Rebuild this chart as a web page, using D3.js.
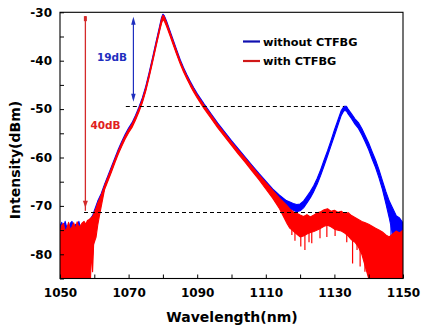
<!DOCTYPE html>
<html>
<head>
<meta charset="utf-8">
<script src="https://cdn.jsdelivr.net/npm/d3@7"></script>
<style>
html,body{margin:0;padding:0;background:#fff;}
svg{display:block;}
text{font-family:"DejaVu Sans",Verdana,sans-serif;font-weight:bold;}
</style>
</head>
<body>
<svg id="chart" width="425" height="329"></svg>
<script>
// ---------- data ----------
const xTicks = [1050,1060,1070,1080,1090,1100,1110,1120,1130,1140,1150];
const xLabels = [1050,1070,1090,1110,1130,1150];
const yTicks = [-85,-80,-75,-70,-65,-60,-55,-50,-45,-40,-35,-30];
const yLabels = [-80,-70,-60,-50,-40,-30];

// "with CTFBG" (red): wavelength, upper and lower edge of the noisy trace
const redWl = [1050,1050.5,1051,1051.5,1052,1052.5,1053,1053.5,1054,1054.5,1055,1055.5,1056,1056.5,1057,1057.5,1058,1058.5,1058.9,1059.2,1059.5,1059.8,1060,1060.5,1061,1061.5,1062,
  1063,1064,1065,1066,1067,1068,1069,1070,1071,1072,1073,1074,1075,1076,1077,1078,1079,1079.6,1080,1080.4,1081,1082,1083,1084,1085,1086,1087,1088,1089,1090,
  1092,1094,1096,1098,1100,1102,1104,1106,1108,1110,1112,1114,1116,
  1117,1118,1119,1120,1121,1122,1123,1124,1125,1126,1127,1128,1129,1130,1131,1132,1133,1134,1135,1136,1137,1138,1139,1140,1141,1142,1143,1144,1145,1146,1147,1148,1149,1150];
const redHi = [-75.5,-74,-73.6,-75.2,-74.6,-73.4,-75,-74.3,-73.5,-74.8,-73.3,-74.4,-74,-73.5,-73.2,-73.8,-73,-72.8,-72.6,-72.4,-72.2,-71.8,-71.4,-70.5,-69.4,-68.6,-67.8,
  -65.8,-64,-62.2,-60.4,-58.6,-57,-55.5,-54.2,-53.1,-51.6,-49.9,-48,-45.6,-42.7,-39.6,-36.4,-33.3,-31.4,-30.6,-30.9,-32,-34,-36,-38,-40,-41.7,-43.2,-44.6,-45.9,-47.1,
  -49.2,-51.2,-53.2,-55,-56.8,-58.5,-60.2,-61.9,-63.6,-65.2,-66.8,-68.4,-69.8,
  -70.6,-71.2,-71.5,-71.9,-72.2,-71.8,-72.3,-71.9,-71.4,-71.2,-70.8,-70.6,-71.1,-70.9,-71.3,-71.1,-71.6,-71.4,-72,-72.4,-72.8,-73.2,-73.5,-73.8,-74.2,-74.6,-75,-75.4,-76,-76.4,-75.8,-75.2,-75.6,-75];
const redLo = [-85,-85,-85,-85,-85,-85,-85,-85,-85,-85,-85,-85,-85,-85,-85,-85,-85,-85,-85,-79,-83.6,-78,-77.5,-76.5,-74,-72,-70.2,
  -66.6,-64.8,-63,-61.1,-59.3,-57.7,-56.2,-54.9,-53.8,-52.3,-50.6,-48.7,-46.3,-43.4,-40.3,-37.1,-34,-32.3,-31.5,-31.8,-32.8,-34.7,-36.7,-38.7,-40.6,-42.3,-43.8,-45.2,-46.5,-47.7,
  -49.9,-51.9,-53.9,-55.7,-57.5,-59.3,-61,-62.8,-64.6,-66.5,-68.4,-70.6,-73.4,
  -74.6,-75.2,-75.8,-76.4,-76.2,-75.8,-75.5,-75.3,-75,-74.6,-74.2,-74,-74.3,-74.8,-75,-75.2,-75.6,-76.2,-77,-77.5,-78.5,-80,-82.5,-85,-85,-85,-85,-85,-85,-85,-85,-85,-85,-85];
// downward noise spikes of the red trace: wavelength, top, bottom
const redSpikeWl = [1117.6,1118.5,1120.2,1121.4,1122.6,1123.4,1125.8,1127.8,1130.2,1133.6,1135.3,1136.6,1137.5,1138.9];
const redSpikeTop = [-73,-74,-74,-75,-74,-74,-74,-73.5,-74,-75,-76,-76,-77,-78];
const redSpikeBot = [-76,-77.2,-78.4,-79.1,-77.5,-77.7,-76.7,-76.4,-76.2,-77.5,-81.9,-79.1,-82.5,-83.6];

// "without CTFBG" (blue)
const blueWl = [1050,1050.5,1051,1051.5,1052,1052.5,1053,1053.5,1054,1054.5,1055,1055.5,1056,1056.5,1057,1057.5,1058,1058.5,1058.9,1059.5,1060,1060.5,1061,1062,
  1063,1064,1065,1066,1067,1068,1069,1070,1071,1072,1073,1074,1075,1076,1077,1078,1079,1079.6,1080,1080.4,1081,1082,1083,1084,1085,1086,1087,1088,1089,1090,
  1092,1094,1096,1098,1100,1102,1104,1106,1108,1110,1112,1114,1116,1118,1119,1120,1121,1122,1123,1124,1125,1126,1127,1128,1129,1130,1131,1132,1132.8,1133.5,
  1134,1135,1136,1137,1138,1139,1140,1141,1142,1143,1144,1145,1146,1147,1148,1149,1150];
const blueHi = [-74.2,-73.4,-74.5,-73.2,-74.5,-74.8,-73.6,-73.2,-74.6,-73.8,-74.5,-73.2,-74.6,-74,-73.4,-74,-73.4,-73,-72.6,-72,-71,-70,-69,-67.5,
  -65.5,-63.7,-61.9,-60.1,-58.3,-56.7,-55.2,-53.9,-52.8,-51.3,-49.6,-47.7,-45.3,-42.4,-39.3,-36.1,-33,-31.1,-30.4,-30.7,-31.7,-33.7,-35.7,-37.7,-39.7,-41.4,-42.9,-44.3,-45.6,-46.8,
  -48.9,-50.9,-52.9,-54.7,-56.5,-58.2,-59.9,-61.6,-63.3,-64.9,-66.5,-67.8,-68.9,-69.5,-69.7,-69.6,-69,-68,-67,-65.8,-64.3,-62.5,-60.5,-58.6,-56.5,-54.3,-52.3,-50.3,-49.4,-49.4,
  -50,-51,-52,-52.8,-54,-55.5,-57,-58.8,-60.5,-62.5,-64.8,-67,-69,-70.5,-72,-72.5,-73.5];
const blueLo = [-85,-85,-85,-85,-85,-85,-85,-85,-85,-85,-85,-85,-85,-85,-85,-85,-85,-85,-80,-80.2,-76,-74,-72.5,-69,
  -66.3,-64.5,-62.7,-60.8,-59,-57.4,-55.9,-54.6,-53.5,-52,-50.3,-48.4,-46,-43.1,-40,-36.8,-33.7,-32,-31.2,-31.5,-32.5,-34.4,-36.4,-38.4,-40.3,-42,-43.5,-44.9,-46.2,-47.4,
  -49.6,-51.6,-53.6,-55.4,-57.2,-59,-60.7,-62.5,-64.3,-66,-67.5,-69,-70.2,-70.9,-71.2,-71,-70.4,-69.4,-68.3,-67,-65.5,-63.7,-61.7,-59.7,-57.6,-55.5,-53.4,-51.3,-50.3,-50.4,
  -51,-52,-53.1,-54,-55.3,-56.8,-58.4,-60.3,-62.1,-64.2,-66.6,-69.5,-72.5,-76,-78,-78.5,-77];
const blueSpikeWl = [1146.5,1147.8,1149.2];
const blueSpikeTop = [-74,-75,-75];
const blueSpikeBot = [-80,-79.2,-78.6];

// annotations
const dashLevels = [-49.4,-71.3];
const dashFrom = [1069.2,1057.0];
const dashTo = [1132.8,1134.3];

// ---------- drawing ----------
const svg = d3.select("#chart");
const W = 425, H = 329;
const x = d3.scaleLinear().domain([1050,1150]).range([60,403]);
const y = d3.scaleLinear().domain([-85,-30]).range([278.5,12.3]);

svg.append("rect").attr("width",W).attr("height",H).attr("fill","#fff");
const defs = svg.append("defs");
defs.append("clipPath").attr("id","clip").append("rect")
  .attr("x",60).attr("y",12.3).attr("width",343).attr("height",266.2);

const plot = svg.append("g").attr("clip-path","url(#clip)");

function band(wl, hi, lo, color){
  const pts = wl.map((w,i)=>({w:w,h:hi[i],l:lo[i]}));
  const area = d3.area().x(d=>x(d.w)).y0(d=>y(d.l)).y1(d=>y(d.h)).curve(d3.curveLinear);
  plot.append("path").datum(pts).attr("d",area)
    .attr("fill",color).attr("stroke",color).attr("stroke-width",1.1).attr("stroke-linejoin","round");
}
function spikes(wl, top, bot, color){
  plot.selectAll(null).data(wl.map((w,i)=>({w:w,t:top[i],b:bot[i]}))).enter().append("line")
    .attr("x1",d=>x(d.w)).attr("x2",d=>x(d.w)).attr("y1",d=>y(d.t)).attr("y2",d=>y(d.b))
    .attr("stroke",color).attr("stroke-width",1.2);
}
band(blueWl, blueHi, blueLo, "#0000ff");
spikes(blueSpikeWl, blueSpikeTop, blueSpikeBot, "#0000ff");
band(redWl, redHi, redLo, "#ff0000");
spikes(redSpikeWl, redSpikeTop, redSpikeBot, "#ff0000");

// dashed guide lines
dashLevels.forEach((v,i)=>{
  svg.append("line").attr("x1",x(dashFrom[i])).attr("x2",x(dashTo[i]))
    .attr("y1",Math.round(y(v))+0.5).attr("y2",Math.round(y(v))+0.5)
    .attr("stroke","#000").attr("stroke-width",1).attr("stroke-dasharray","4,3");
});

// arrows
function arrowHead(cx, tipY, dir, w, len, color){
  svg.append("path")
    .attr("d",`M${cx},${tipY} L${cx-w/2},${tipY-dir*len} L${cx+w/2},${tipY-dir*len} Z`)
    .attr("fill",color);
}
// red 40 dB arrow
const rx = x(1057.4);
svg.append("line").attr("x1",rx).attr("x2",rx).attr("y1",y(-30.8)).attr("y2",y(-70.4)+3)
  .attr("stroke","#d42a2a").attr("stroke-width",1.3);
svg.append("rect").attr("x",rx-1.5).attr("y",y(-30.8)).attr("width",3).attr("height",5).attr("fill","#d42a2a");
arrowHead(rx, y(-70.4), 1, 5, 7, "#d42a2a");
// blue 19 dB arrow
const bx = x(1071.4);
svg.append("line").attr("x1",bx).attr("x2",bx).attr("y1",y(-30.9)+3).attr("y2",y(-48.5)-3)
  .attr("stroke","#1f2fbf").attr("stroke-width",1.2);
arrowHead(bx, y(-30.9), -1, 4.5, 8, "#1f2fbf");
arrowHead(bx, y(-48.5), 1, 4.5, 8, "#1f2fbf");

svg.append("text").attr("x",112).attr("y",61.3).attr("text-anchor","middle")
  .attr("font-size",10.5).attr("fill","#1f2fbf").text("19dB");
svg.append("text").attr("x",105.5).attr("y",128.5).attr("text-anchor","middle")
  .attr("font-size",10.5).attr("fill","#e02020").text("40dB");

// legend
const legend = [{name:"without CTFBG", color:"#1010b0", y:41.5},{name:"with CTFBG", color:"#d01818", y:61}];
legend.forEach(l=>{
  svg.append("line").attr("x1",243).attr("x2",260).attr("y1",l.y).attr("y2",l.y)
    .attr("stroke",l.color).attr("stroke-width",2.2);
  svg.append("text").attr("x",263).attr("y",l.y+4.3).attr("font-size",11.3).attr("fill","#000").text(l.name);
});

// axes
const xAxis = d3.axisBottom(x).tickValues(xTicks).tickSize(-4).tickSizeOuter(0).tickPadding(10)
  .tickFormat(d => xLabels.includes(d) ? String(d) : "");
const gx = svg.append("g").attr("transform",`translate(0,${y(-85)})`).call(xAxis);
const yAxis = d3.axisLeft(y).tickValues(yTicks).tickSize(-4).tickSizeOuter(0).tickPadding(8)
  .tickFormat(d => yLabels.includes(d) ? String(d) : "");
const gy = svg.append("g").attr("transform",`translate(${x(1050)},0)`).call(yAxis);
[gx,gy].forEach(g=>{
  g.selectAll("text").attr("font-size",12).attr("font-family","DejaVu Sans, sans-serif")
    .attr("font-weight","bold").attr("fill","#000");
  g.selectAll("line").attr("stroke","#000");
  g.select(".domain").remove();
});
// frame
svg.append("rect").attr("x",60).attr("y",12.3).attr("width",343).attr("height",266.2)
  .attr("fill","none").attr("stroke","#000").attr("stroke-width",1.1);

// axis titles
svg.append("text").attr("x",232).attr("y",322).attr("text-anchor","middle")
  .attr("font-size",14).attr("fill","#000").text("Wavelength(nm)");
svg.append("text").attr("transform","translate(20,160) rotate(-90)").attr("text-anchor","middle")
  .attr("font-size",14).attr("fill","#000").text("Intensity(dBm)");
</script>
</body>
</html>
